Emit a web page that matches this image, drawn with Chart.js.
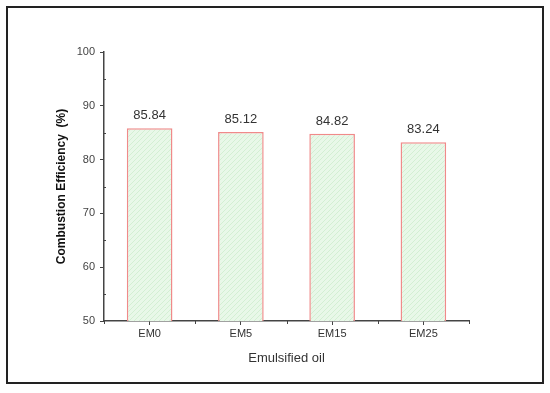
<html lang="en">

<head>
    <meta charset="UTF-8" />
    <title>Combustion Efficiency</title>
</head>
<style>
    body {
        margin: 0;
        background: #fff;
    }
</style>

<body>
<canvas id="myChart" width="550" height="393"></canvas>

<script src="https://cdn.jsdelivr.net/npm/chart.js"></script>

<script>
    const categories = ['EM0', 'EM5', 'EM15', 'EM25'];
    const efficiency = [85.84, 85.12, 84.82, 83.24];
    const yTicks = [50, 60, 70, 80, 90, 100];
    const yMinorTicks = [55, 65, 75, 85, 95];

    const AXIS_COLOR = '#444';
    const TEXT_COLOR = '#333';
    const FONT = 'Liberation Sans, Arial, sans-serif';

    // hatch fill for the bars
    function makeHatch() {
        const c = document.createElement('canvas');
        c.width = 5;
        c.height = 5;
        const g = c.getContext('2d');
        g.fillStyle = '#e8f8e8';
        g.fillRect(0, 0, 5, 5);
        g.strokeStyle = '#d3efd3';
        g.lineWidth = 1;
        g.beginPath();
        g.moveTo(0, 5);
        g.lineTo(5, 0);
        g.moveTo(-2.5, 2.5);
        g.lineTo(2.5, -2.5);
        g.moveTo(2.5, 7.5);
        g.lineTo(7.5, 2.5);
        g.stroke();
        return g.createPattern(c, 'repeat');
    }

    // values above the bars, minor ticks, outer frame
    const extras = {
        id: 'extras',
        afterDraw(chart) {
            const ctx = chart.ctx;
            const x = chart.scales.x;
            const y = chart.scales.y;
            const area = chart.chartArea;

            ctx.save();
            ctx.font = '13px ' + FONT;
            ctx.fillStyle = TEXT_COLOR;
            ctx.textAlign = 'center';
            ctx.textBaseline = 'bottom';
            chart.getDatasetMeta(0).data.forEach((bar, i) => {
                ctx.fillText(efficiency[i].toFixed(2), bar.x, bar.y - 6);
            });

            ctx.strokeStyle = AXIS_COLOR;
            ctx.lineWidth = 1;
            ctx.beginPath();
            yMinorTicks.forEach(v => {
                const py = Math.round(y.getPixelForValue(v)) + 0.5;
                ctx.moveTo(area.left, py);
                ctx.lineTo(area.left + 2, py);
            });
            for (let i = 0; i <= categories.length; i++) {
                const px = Math.round(x.getPixelForValue(i - 0.5)) + 0.5;
                ctx.moveTo(px, area.bottom);
                ctx.lineTo(px, area.bottom + 3);
            }
            ctx.stroke();

            ctx.strokeStyle = '#222';
            ctx.lineWidth = 2;
            ctx.strokeRect(7, 7, 536, 376);
            ctx.restore();
        }
    };

    const ctx = document.querySelector('#myChart');
    const myChart = new Chart(ctx, {
        type: 'bar',
        data: {
            labels: categories,
            datasets: [{
                label: 'Combustion Efficiency (%)',
                data: efficiency,
                backgroundColor: makeHatch(),
                borderColor: '#f08a8a',
                borderWidth: 1.5,
                barPercentage: 0.5,
                categoryPercentage: 1
            }]
        },
        options: {
            responsive: false,
            animation: false,
            layout: {
                padding: { top: 52, right: 81, left: 0, bottom: 0 }
            },
            plugins: {
                legend: { display: false },
                tooltip: { enabled: false }
            },
            scales: {
                x: {
                    offset: true,
                    afterFit: s => { s.height = 72; },
                    grid: {
                        offset: false,
                        drawOnChartArea: false,
                        tickLength: 4,
                        tickColor: AXIS_COLOR
                    },
                    border: { color: AXIS_COLOR, width: 1.5 },
                    ticks: {
                        color: TEXT_COLOR,
                        padding: 2,
                        font: { size: 11, family: FONT }
                    },
                    title: {
                        display: true,
                        text: 'Emulsified oil',
                        color: TEXT_COLOR,
                        font: { size: 13, family: FONT },
                        padding: { top: 0, bottom: 27 }
                    }
                },
                y: {
                    min: 50,
                    max: 100,
                    afterFit: s => { s.width = 104; },
                    afterBuildTicks: s => { s.ticks = yTicks.map(v => ({ value: v })); },
                    grid: {
                        drawOnChartArea: false,
                        tickLength: 4,
                        tickColor: AXIS_COLOR
                    },
                    border: { color: AXIS_COLOR, width: 1.5 },
                    ticks: {
                        color: '#444',
                        padding: 5,
                        font: { size: 11, family: FONT }
                    },
                    title: {
                        display: true,
                        text: 'Combustion Efficiency  (%)',
                        color: '#111',
                        font: { size: 12, weight: 'bold', family: FONT },
                        padding: { top: 54, bottom: 0 }
                    }
                }
            }
        },
        plugins: [extras]
    });
</script>
</body>

</html>
